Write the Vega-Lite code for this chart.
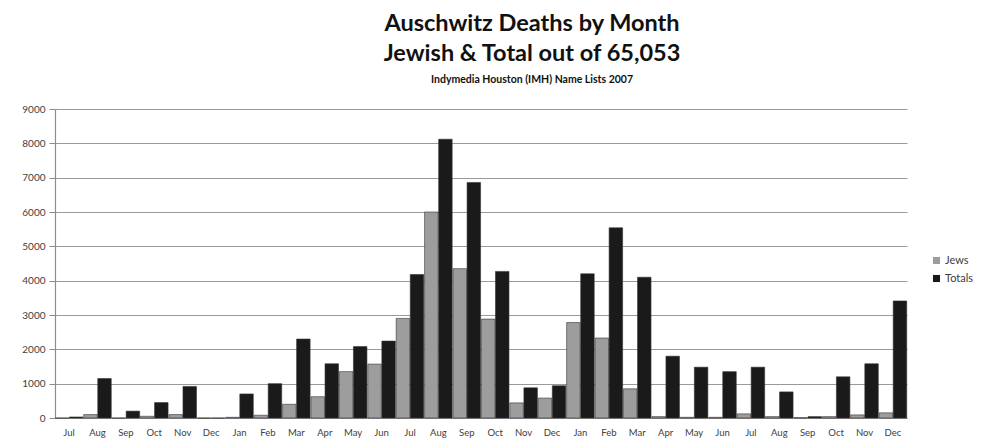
{
  "$schema": "https://vega.github.io/schema/vega-lite/v6.json",
  "width": 852,
  "height": 309,
  "autosize": {"type": "none"},
  "padding": {"left": 55, "top": 109, "right": 81, "bottom": 29},
  "background": "white",
  "title": {
    "text": ["Auschwitz Deaths by Month", "Jewish & Total out of 65,053"],
    "subtitle": "Indymedia Houston (IMH) Name Lists 2007",
    "font": "Lato",
    "fontSize": 23.5,
    "fontWeight": "bold",
    "lineHeight": 30,
    "color": "#111111",
    "subtitleFont": "Lato",
    "subtitleFontSize": 10.5,
    "subtitleFontWeight": "bold",
    "subtitleColor": "#111111",
    "subtitlePadding": 9,
    "anchor": "middle",
    "frame": "group",
    "dx": 51,
    "offset": 19
  },
  "data": {
    "values": [
      {"m": "Jul 1941", "Jews": 0, "Totals": 30},
      {"m": "Aug 1941", "Jews": 100, "Totals": 1150},
      {"m": "Sep 1941", "Jews": 0, "Totals": 200},
      {"m": "Oct 1941", "Jews": 50, "Totals": 450},
      {"m": "Nov 1941", "Jews": 100, "Totals": 920},
      {"m": "Dec 1941", "Jews": 0, "Totals": 0},
      {"m": "Jan 1942", "Jews": 20, "Totals": 700},
      {"m": "Feb 1942", "Jews": 80, "Totals": 1000},
      {"m": "Mar 1942", "Jews": 400, "Totals": 2300},
      {"m": "Apr 1942", "Jews": 620, "Totals": 1580},
      {"m": "May 1942", "Jews": 1350, "Totals": 2080},
      {"m": "Jun 1942", "Jews": 1570, "Totals": 2240},
      {"m": "Jul 1942", "Jews": 2900, "Totals": 4180},
      {"m": "Aug 1942", "Jews": 6000, "Totals": 8120},
      {"m": "Sep 1942", "Jews": 4350, "Totals": 6860},
      {"m": "Oct 1942", "Jews": 2880, "Totals": 4270},
      {"m": "Nov 1942", "Jews": 440, "Totals": 880},
      {"m": "Dec 1942", "Jews": 580, "Totals": 940},
      {"m": "Jan 1943", "Jews": 2780, "Totals": 4200},
      {"m": "Feb 1943", "Jews": 2330, "Totals": 5540},
      {"m": "Mar 1943", "Jews": 850, "Totals": 4100},
      {"m": "Apr 1943", "Jews": 40, "Totals": 1800},
      {"m": "May 1943", "Jews": 20, "Totals": 1480},
      {"m": "Jun 1943", "Jews": 20, "Totals": 1350},
      {"m": "Jul 1943", "Jews": 120, "Totals": 1480},
      {"m": "Aug 1943", "Jews": 40, "Totals": 760},
      {"m": "Sep 1943", "Jews": 10, "Totals": 40},
      {"m": "Oct 1943", "Jews": 40, "Totals": 1200},
      {"m": "Nov 1943", "Jews": 90, "Totals": 1580},
      {"m": "Dec 1943", "Jews": 150, "Totals": 3410}
    ]
  },
  "transform": [{"fold": ["Jews", "Totals"], "as": ["series", "deaths"]}],
  "mark": {"type": "bar", "stroke": "#333333", "strokeWidth": 0.6},
  "encoding": {
    "x": {
      "field": "m",
      "type": "nominal",
      "sort": null,
      "scale": {"paddingInner": 0.03, "paddingOuter": 0.01},
      "axis": {
        "title": null,
        "labelAngle": 0,
        "labelExpr": "split(datum.value, ' ')[0]",
        "labelFont": "Lato",
        "labelFontSize": 9.5,
        "labelColor": "#404040",
        "labelPadding": 9,
        "ticks": false,
        "domainColor": "#8c8c8c",
        "domainWidth": 1.2
      }
    },
    "xOffset": {
      "field": "series",
      "type": "nominal",
      "sort": ["Jews", "Totals"],
      "scale": {"paddingInner": 0.04}
    },
    "y": {
      "field": "deaths",
      "type": "quantitative",
      "scale": {"domain": [0, 9000], "nice": false},
      "axis": {
        "title": null,
        "format": "d",
        "values": [0, 1000, 2000, 3000, 4000, 5000, 6000, 7000, 8000, 9000],
        "labelFont": "Lato",
        "labelFontSize": 10,
        "labelColor": "#404040",
        "labelPadding": 4,
        "tickSize": 6,
        "tickColor": "#8c8c8c",
        "domainColor": "#8c8c8c",
        "domainWidth": 1.2,
        "grid": true,
        "gridColor": "#9a9a9a",
        "gridWidth": 1.2
      }
    },
    "color": {
      "field": "series",
      "type": "nominal",
      "scale": {"domain": ["Jews", "Totals"], "range": ["#9d9d9d", "#1a1a1a"]},
      "legend": {
        "title": null,
        "orient": "none",
        "legendX": 876,
        "legendY": 146,
        "symbolType": "square",
        "symbolSize": 50,
        "symbolStrokeWidth": 0,
        "labelFont": "Lato",
        "labelFontSize": 11,
        "labelColor": "#404040",
        "rowPadding": 6,
        "labelOffset": 3
      }
    }
  },
  "config": {"view": {"stroke": null}}
}
